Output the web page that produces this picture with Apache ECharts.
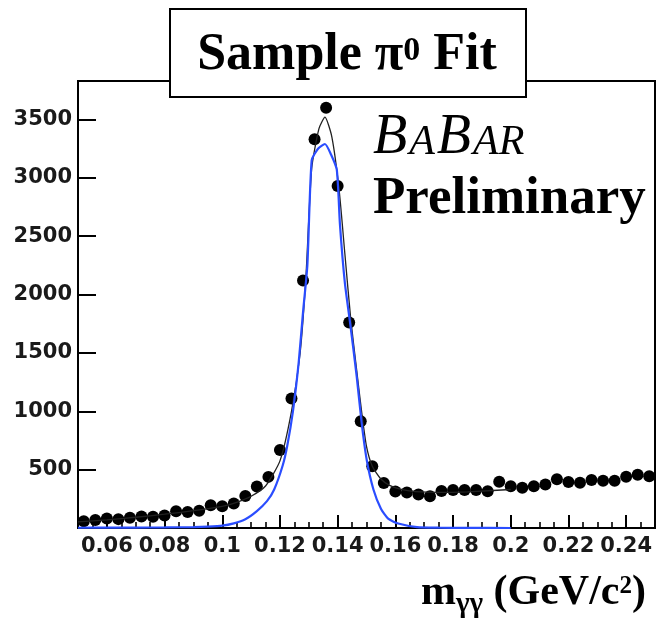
<!DOCTYPE html>
<html>
<head>
<meta charset="utf-8">
<script src="https://cdn.jsdelivr.net/npm/echarts@6/dist/echarts.min.js"></script>
<style>
html,body{margin:0;padding:0;background:#fff;}
#chart{width:656px;height:623px;}
</style>
</head>
<body>
<div id="chart"></div>
<script>
// ---- data ----
var binCenters = [0.052,0.056,0.060,0.064,0.068,0.072,0.076,0.080,0.084,0.088,
                  0.092,0.096,0.100,0.104,0.108,0.112,0.116,0.120,0.124,0.128,
                  0.132,0.136,0.140,0.144,0.148,0.152,0.156,0.160,0.164,0.168,
                  0.172,0.176,0.180,0.184,0.188,0.192,0.196,0.200,0.204,0.208,
                  0.212,0.216,0.220,0.224,0.228,0.232,0.236,0.240,0.244,0.248];
var counts = [58,68,82,76,88,98,97,108,143,137,
              148,195,186,210,274,356,438,669,1110,2120,
              3330,3600,2930,1760,915,530,386,313,304,287,
              272,318,325,325,325,315,396,358,345,357,
              373,418,395,388,412,405,405,440,457,443];
var totalFitX = [0.05,0.06,0.07,0.08,0.09,0.1,0.105,0.11,0.115,0.12,0.124,0.127,0.129,0.131,0.1335,0.1356,0.138,0.1405,0.1425,0.1445,0.1466,0.1485,0.15,0.152,0.155,0.158,0.162,0.167,0.175,0.185,0.2];
var totalFitY = [52,70,92,118,148,185,220,272,360,575,1000,1500,2150,3080,3420,3520,3350,2900,2350,1800,1350,960,700,530,420,365,330,312,305,310,330];
var signalFitX = [0.05,0.06,0.07,0.08,0.09,0.095,0.1,0.104,0.108,0.112,0.1155,0.118,0.121,0.1225,0.1245,0.1265,0.128,0.1295,0.131,0.1332,0.1356,0.1377,0.1397,0.1408,0.1425,0.1443,0.1466,0.1483,0.1501,0.1524,0.155,0.1575,0.161,0.1675,0.175,0.185,0.2];
var signalFitY = [2,3,4,5,8,12,20,40,75,145,230,330,540,700,1000,1420,1850,2250,3150,3250,3290,3200,3070,2600,2100,1760,1300,905,580,330,165,80,38,8,3,1,0];
var yTicks = [500,1000,1500,2000,2500,3000,3500];

function pairs(xs, ys){ return xs.map(function(x,i){ return [x, ys[i]]; }); }

var chart = echarts.init(document.getElementById('chart'), null, {renderer:'canvas'});
var labelFont = {fontFamily:'DejaVu Sans', fontSize:21, fontWeight:'bold', color:'#1a1a1a'};
function tok(size, h, extra){
  return Object.assign({fontFamily:'Liberation Serif', fontWeight:'bold', fontSize:size, height:h, lineHeight:h, verticalAlign:'top', fill:'#000'}, extra || {});
}
var ital = {fontWeight:'normal', fontStyle:'italic', padding:[0,2,0,0]};
var option = {
  animation:false,
  backgroundColor:'#fff',
  grid:{left:78, right:1, top:81, bottom:95, show:true, borderColor:'#000', borderWidth:2, backgroundColor:'transparent'},
  xAxis:[{
    type:'value', min:0.05, max:0.25, splitNumber:10,
    axisLine:{show:true, lineStyle:{color:'#000', width:2}},
    axisTick:{show:true, inside:true, length:13, lineStyle:{color:'#000', width:2}},
    axisLabel:Object.assign({margin:8, showMinLabel:false, showMaxLabel:false}, labelFont),
    splitLine:{show:false}
  },{
    type:'value', min:0.05, max:0.25, interval:0.005, position:'bottom',
    axisLine:{show:false},
    axisTick:{show:true, inside:true, length:6, lineStyle:{color:'#000', width:1.6}},
    axisLabel:{show:false},
    splitLine:{show:false}
  }],
  yAxis:{
    type:'value', min:0, max:3830, interval:500,
    axisLine:{show:true, lineStyle:{color:'#000', width:2}},
    axisTick:{show:true, inside:true, length:18, lineStyle:{color:'#000', width:2}},
    axisLabel:Object.assign({margin:6, showMinLabel:false, showMaxLabel:false,
      formatter:function(v){ return yTicks.indexOf(v) >= 0 ? String(v) : ''; }}, labelFont),
    splitLine:{show:false}
  },
  series:[
    {type:'scatter', xAxisIndex:0, data:pairs(binCenters, counts), symbol:'circle', symbolSize:12,
     itemStyle:{color:'#000', opacity:1}, z:2},
    {type:'line', xAxisIndex:0, data:pairs(totalFitX, totalFitY), showSymbol:false, smooth:0.2,
     lineStyle:{color:'#222', width:1.3}, z:3},
    {type:'line', xAxisIndex:0, data:pairs(signalFitX, signalFitY), showSymbol:false, smooth:0.2,
     lineStyle:{color:'#2a4dff', width:2.2}, z:4}
  ],
  graphic:[
    {type:'rect', z:100, shape:{x:170, y:9, width:356, height:88},
     style:{fill:'#fff', stroke:'#000', lineWidth:2}},
    {type:'text', z:101, x:347, y:29.5,
     style:{text:'{a|Sample π}{s|0}{a| Fit}', textAlign:'center', textVerticalAlign:'top', align:'center', verticalAlign:'top',
       rich:{ a:tok(52,52), s:tok(34,44) }}},
    {type:'text', z:101, x:373, y:110.1,
     style:{text:'{B|B}{A|A}{B|B}{A|AR}', textAlign:'left', textVerticalAlign:'top', align:'left', verticalAlign:'top',
       rich:{ B:tok(56,56,ital), A:tok(42,65.4,ital) }}},
    {type:'text', z:101, x:373, y:172.6,
     style:{text:'{p|Preliminary}', textAlign:'left', textVerticalAlign:'top', align:'left', verticalAlign:'top',
       rich:{ p:tok(53,53) }}},
    {type:'text', z:101, x:646, y:572,
     style:{text:'{m|m}{g|γγ}{m| (GeV/c}{s|2}{m|)}', textAlign:'right', textVerticalAlign:'top', align:'right', verticalAlign:'top',
       rich:{ m:tok(42,42), g:tok(29,65), s:tok(25,29) }}}
  ]
};
chart.setOption(option);
</script>
</body>
</html>
